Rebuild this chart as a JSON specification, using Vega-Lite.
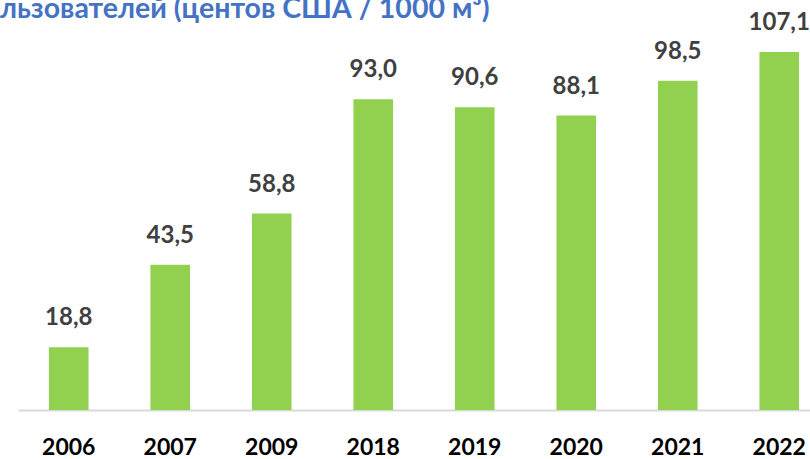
{
  "$schema": "https://vega.github.io/schema/vega-lite/v6.json",
  "autosize": {"type": "none"},
  "width": 812,
  "height": 401,
  "padding": {"left": 18, "top": 9, "right": 0, "bottom": 50},
  "background": "white",
  "title": {
    "text": "льзователей (центов США / 1000 м³)",
    "anchor": "start",
    "frame": "group",
    "orient": "top",
    "offset": 0,
    "baseline": "alphabetic",
    "dx": -18,
    "dy": 37,
    "font": "Lato",
    "fontSize": 28.5,
    "fontWeight": "bold",
    "color": "#4472C4"
  },
  "config": {
    "view": {"stroke": null},
    "locale": {"number": {"decimal": ",", "thousands": " ", "grouping": [3], "currency": ["", ""]}}
  },
  "data": {
    "values": [
      {"year": "2006", "value": 18.8},
      {"year": "2007", "value": 43.5},
      {"year": "2009", "value": 58.8},
      {"year": "2018", "value": 93.0},
      {"year": "2019", "value": 90.6},
      {"year": "2020", "value": 88.1},
      {"year": "2021", "value": 98.5},
      {"year": "2022", "value": 107.1}
    ]
  },
  "encoding": {
    "x": {
      "field": "year",
      "type": "nominal",
      "sort": null,
      "scale": {"paddingInner": 0.61, "paddingOuter": 0.305},
      "axis": {
        "title": null,
        "labelAngle": 0,
        "ticks": false,
        "labelPadding": 26,
        "labelFont": "Lato",
        "labelFontSize": 23,
        "labelFontWeight": "bold",
        "labelColor": "#000000",
        "domainColor": "#D9D9D9",
        "domainWidth": 2
      }
    },
    "y": {
      "field": "value",
      "type": "quantitative",
      "scale": {"domain": [0, 120], "nice": false},
      "axis": null
    }
  },
  "layer": [
    {"mark": {"type": "bar", "color": "#92D050"}},
    {
      "mark": {"type": "text", "baseline": "bottom", "dy": -17, "font": "Lato", "fontSize": 24, "fontWeight": "bold", "color": "#404040"},
      "encoding": {"text": {"field": "value", "type": "quantitative", "format": ".1f"}}
    }
  ]
}
